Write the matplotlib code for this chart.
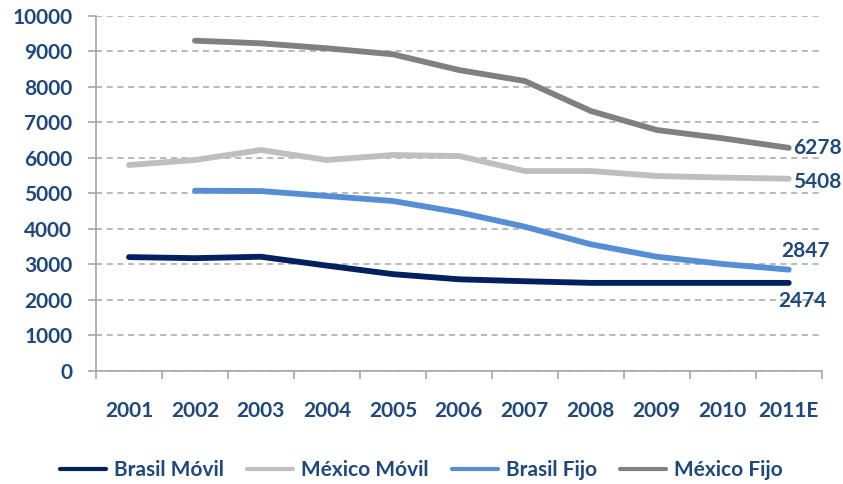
import matplotlib.pyplot as plt
import numpy as np

import matplotlib as mpl

mpl.rcParams["font.family"] = ["Lato", "DejaVu Sans"]
mpl.rcParams["font.weight"] = "bold"

years = ["2001", "2002", "2003", "2004", "2005", "2006", "2007", "2008", "2009", "2010", "2011E"]

brasil_movil = [3200, 3170, 3210, 2960, 2720, 2575, 2520, 2474, 2474, 2474, 2474]
mexico_movil = [5794, 5935, 6217, 5935, 6076, 6048, 5625, 5625, 5484, 5440, 5408]
brasil_fijo = [np.nan, 5070, 5060, 4921, 4780, 4462, 4056, 3560, 3211, 3006, 2847]
mexico_fijo = [np.nan, 9296, 9222, 9082, 8913, 8470, 8160, 7315, 6780, 6546, 6278]

txt_color = "#1f497d"
fs = 15

fig = plt.figure(figsize=(8.43, 4.84), dpi=100)
ax = fig.add_axes([96 / 843, 1 - 370.7 / 484, (821.7 - 96) / 843, (370.7 - 15.7) / 484])

x = np.arange(len(years))
series = [
    ("Brasil Móvil", brasil_movil, "#002060"),
    ("México Móvil", mexico_movil, "#bfbfbf"),
    ("Brasil Fijo", brasil_fijo, "#558ed5"),
    ("México Fijo", mexico_fijo, "#808080"),
]
for name, vals, col in series:
    ax.plot(x, vals, color=col, lw=4.2, solid_capstyle="round", solid_joinstyle="round",
            label=name, zorder=3)

ax.set_xlim(-0.5, len(years) - 0.5)
ax.set_ylim(0, 10000)
ax.set_yticks(np.arange(0, 10001, 1000))
ax.yaxis.grid(True, color="#a6a6a6", linestyle=(0, (4, 3)), lw=1.1)
ax.set_axisbelow(True)

ax.set_xticks(np.arange(-0.5, len(years), 1))
ax.set_xticklabels([])
ax.set_xticks(x, labels=years, minor=True)
ax.tick_params(axis="x", which="major", length=6, color="#a6a6a6", width=1.2)
ax.tick_params(axis="x", which="minor", length=0, pad=22, labelsize=fs, labelcolor=txt_color)
ax.tick_params(axis="y", length=6, color="#a6a6a6", width=1.2, pad=11,
               labelsize=fs, labelcolor=txt_color)

for s in ["top", "right"]:
    ax.spines[s].set_visible(False)
for s in ["left", "bottom"]:
    ax.spines[s].set_color("#a6a6a6")
    ax.spines[s].set_linewidth(1.2)

last = len(years) - 1
labels = [
    (mexico_fijo[last], (4, 0), "left", "center"),
    (mexico_movil[last], (4, -3), "left", "center"),
    (brasil_fijo[last], (17, 19), "center", "center"),
    (brasil_movil[last], (14, -18), "center", "center"),
]
for val, off, ha, va in labels:
    ax.annotate(f"{val:.0f}", (last, val), xytext=off, textcoords="offset pixels",
                ha=ha, va=va, fontsize=fs, color=txt_color, fontweight="bold")

fig.legend(loc="center", bbox_to_anchor=(0.5, 1 - 470 / 484), ncol=4, frameon=False,
           labelcolor=txt_color, handlelength=2.2, handletextpad=0.4,
           columnspacing=1.1, prop={"weight": "bold", "size": fs})
for line in fig.legends[0].get_lines():
    line.set_linewidth(3)

fig.savefig("out.png", dpi=100)
